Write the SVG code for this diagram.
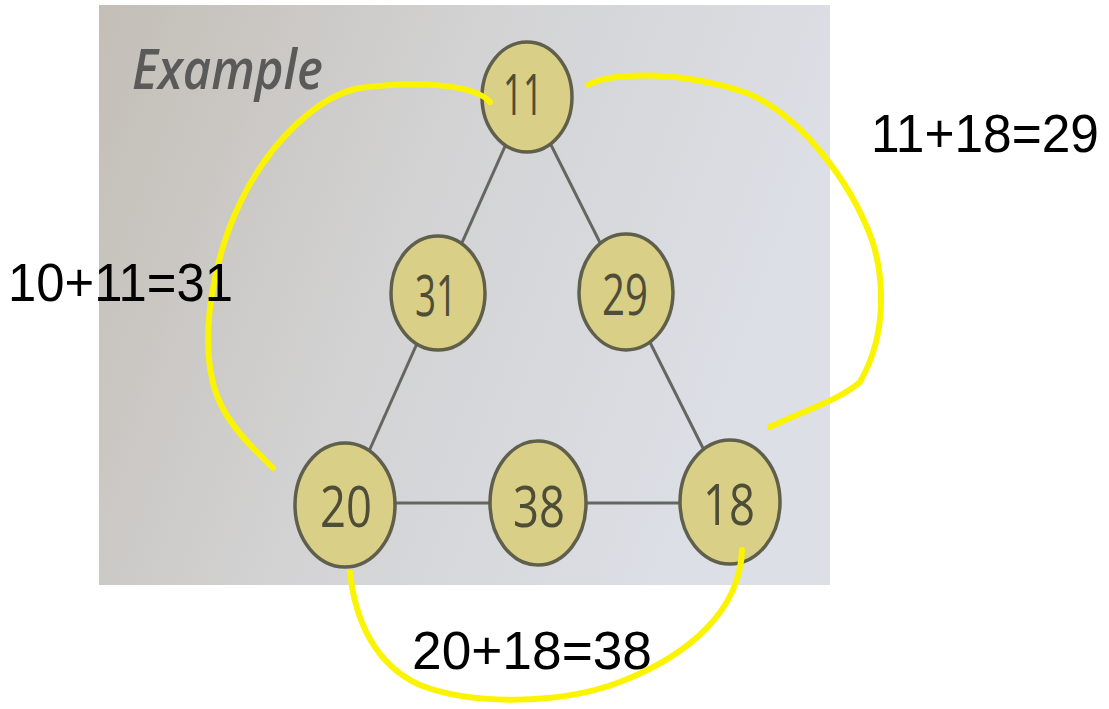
<svg xmlns="http://www.w3.org/2000/svg" width="1109" height="709" viewBox="0 0 1109 709">
<defs>
<linearGradient id="bg" x1="0" y1="0" x2="1" y2="0.3">
<stop offset="0" stop-color="#c3beb6"/>
<stop offset="0.5" stop-color="#d3d3d4"/>
<stop offset="1" stop-color="#dcdfe6"/>
</linearGradient>
<style>
.node ellipse{fill:#d9cf86;stroke:#5f5f4c;stroke-width:3.5}
.node text{font-family:"Open Sans","DejaVu Sans",sans-serif;font-size:56px;font-weight:500;fill:#4e4e38;text-anchor:middle}
.edge{stroke:#666660;stroke-width:3;fill:none}
.hl{stroke:#fbf400;stroke-width:6;fill:none;stroke-linecap:round;stroke-linejoin:round}
.lbl{font-family:"Liberation Sans",Arial,sans-serif;font-size:54px;fill:#000}
</style>
</defs>
<rect width="1109" height="709" fill="#ffffff"/>
<rect x="99" y="5" width="731" height="580" fill="url(#bg)"/>
<text x="132" y="89" font-family="'Open Sans','DejaVu Sans',sans-serif" font-size="56" font-weight="600" font-style="italic" fill="#5a5a5a" textLength="191" lengthAdjust="spacingAndGlyphs">Example</text>
<g id="connectors">
<line class="edge" x1="527" y1="97" x2="345" y2="505"/>
<line class="edge" x1="527" y1="97" x2="730" y2="502"/>
<line class="edge" x1="345" y1="503" x2="730" y2="503"/>
</g>
<g id="n11" class="node"><ellipse cx="527" cy="97" rx="45" ry="55"/><text x="523" y="115" textLength="40" lengthAdjust="spacingAndGlyphs">11</text></g>
<g id="n31" class="node"><ellipse cx="438" cy="293" rx="47" ry="57"/><text x="436" y="316" textLength="42" lengthAdjust="spacingAndGlyphs">31</text></g>
<g id="n29" class="node"><ellipse cx="626" cy="292" rx="47" ry="58"/><text x="625" y="315" textLength="46" lengthAdjust="spacingAndGlyphs">29</text></g>
<g id="n20" class="node"><ellipse cx="345" cy="505" rx="50" ry="62"/><text x="346" y="527" textLength="52" lengthAdjust="spacingAndGlyphs">20</text></g>
<g id="n38" class="node"><ellipse cx="538" cy="503" rx="48" ry="62"/><text x="539" y="527" textLength="52" lengthAdjust="spacingAndGlyphs">38</text></g>
<g id="n18" class="node"><ellipse cx="730" cy="502" rx="50" ry="62"/><text x="729" y="525" textLength="52" lengthAdjust="spacingAndGlyphs">18</text></g>
<g id="highlights">
<path class="hl" d="M490,102 C475,85 420,80 360,88 C320,95 270,140 240,203 C215,255 200,330 213,383 C222,420 250,445 273,468"/>
<path class="hl" d="M588,85 C610,72 680,70 747,93 C800,115 850,180 872,240 C882,270 890,330 860,382 C840,400 800,412 770,427"/>
<path class="hl" d="M350,572 C355,620 375,665 420,685 C470,705 560,705 620,682 C690,655 740,610 742,550"/>
</g>
<g id="labels">
<text class="lbl" x="8" y="301" textLength="225" lengthAdjust="spacingAndGlyphs">10+11=31</text>
<text class="lbl" x="871" y="152" textLength="228" lengthAdjust="spacingAndGlyphs">11+18=29</text>
<text class="lbl" x="412" y="669" textLength="240" lengthAdjust="spacingAndGlyphs">20+18=38</text>
</g>
</svg>
